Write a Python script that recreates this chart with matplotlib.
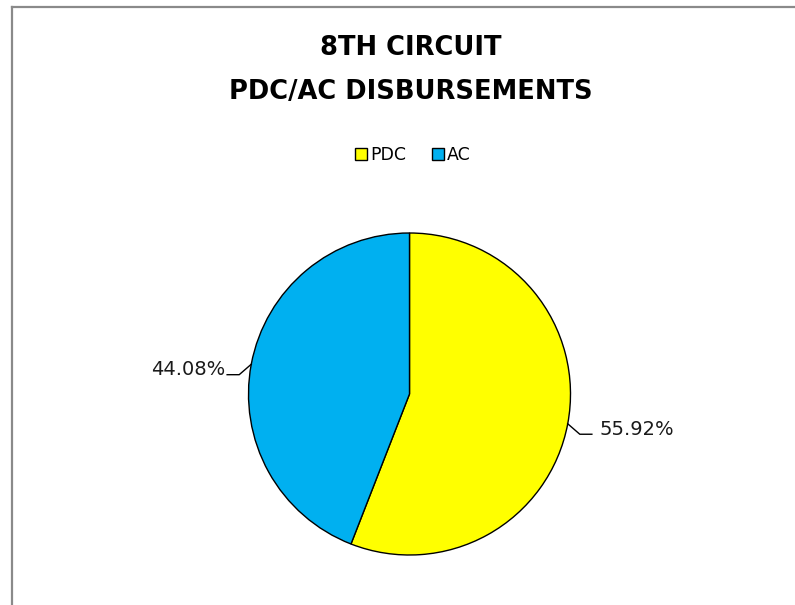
import numpy as np
import matplotlib
matplotlib.use("Agg")
import matplotlib.pyplot as plt
from matplotlib.patches import Patch
from matplotlib.lines import Line2D

categories = ["PDC", "AC"]
values = [55.92, 44.08]
colors = ["#FFFF00", "#00B0F0"]
title = "8TH CIRCUIT\nPDC/AC DISBURSEMENTS"

W, H = 795, 605
fig = plt.figure(figsize=(W / 100, H / 100), dpi=100)
fig.patch.set_facecolor("white")

# border (gray frame on left and top)
fig.add_artist(Line2D([11.5 / W, 11.5 / W], [0, 1 - 6.5 / H], transform=fig.transFigure,
                      color="#8a8a8a", lw=1.6))
fig.add_artist(Line2D([11.5 / W, 1], [1 - 6.5 / H, 1 - 6.5 / H], transform=fig.transFigure,
                      color="#8a8a8a", lw=1.6))

cx, cy, r = 409.5, 394, 161
ax = fig.add_axes([(cx - r) / W, 1 - (cy + r) / H, 2 * r / W, 2 * r / H])
wedges, _ = ax.pie(values, colors=colors, startangle=90, counterclock=False,
                   radius=1.0, wedgeprops=dict(edgecolor="black", linewidth=1.0))
ax.set_xlim(-1, 1)
ax.set_ylim(-1, 1)
ax.set_aspect("equal")
ax.axis("off")

# labels with leader lines
for w, v in zip(wedges, values):
    ang = np.deg2rad((w.theta1 + w.theta2) / 2)
    x0, y0 = np.cos(ang), np.sin(ang)
    sgn = 1 if x0 > 0 else -1
    x1, y1 = x0 + sgn * 0.075, y0 - 0.065
    x2 = x1 + sgn * 0.075
    ax.plot([x0, x1, x2], [y0, y1, y1], color="black", lw=1.0, clip_on=False)
    ax.text(x2 + sgn * (0.045 if sgn > 0 else 0.012), y1 + 0.03, f"{v:.2f}%",
            ha="left" if sgn > 0 else "right",
            va="center", fontsize=14, fontfamily="DejaVu Sans", color="#1a1a1a")

fig.text(411 / W, 1 - 70 / H, title, ha="center", va="center", fontsize=18.5,
         fontweight="bold", fontfamily="DejaVu Sans", linespacing=1.9)

handles = [Patch(facecolor=c, edgecolor="black", linewidth=1.0) for c in colors]
fig.legend(handles, categories, loc="center", bbox_to_anchor=(413 / W, 1 - 155 / H),
           ncol=2, frameon=False, fontsize=12.5, handlelength=0.7, handleheight=0.7,
           handletextpad=0.2, columnspacing=1.45, borderaxespad=0)

fig.savefig("out.png", dpi=100, facecolor="white")
